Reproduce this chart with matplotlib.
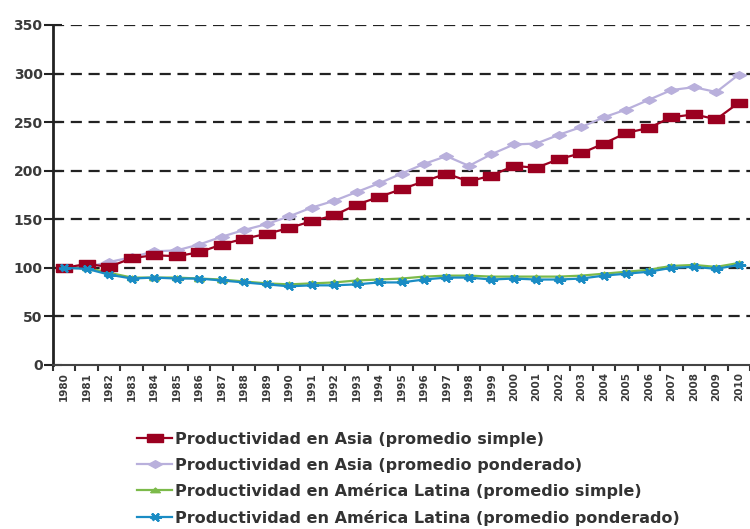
import matplotlib
matplotlib.use("Agg")
import matplotlib.pyplot as plt
import numpy as np

years = [str(y) for y in range(1980, 2011)]

asia_simple = [100, 104, 101, 110, 113, 112, 116, 124, 130, 135, 141, 148, 154, 165, 173,
               181, 189, 197, 189, 195, 205, 203, 212, 218, 228, 239, 244, 255, 258, 253, 270]
asia_weighted = [100, 101, 106, 111, 117, 118, 124, 132, 139, 145, 153, 162, 169, 178, 187,
                 197, 207, 215, 205, 217, 227, 228, 237, 245, 255, 263, 273, 283, 286, 281, 299]
latam_simple = [100, 100, 95, 90, 90, 90, 89, 88, 86, 84, 83, 84, 85, 87, 88,
                89, 91, 92, 92, 91, 91, 91, 91, 92, 94, 96, 98, 102, 103, 101, 105]
latam_weighted = [100, 99, 93, 89, 90, 89, 89, 87, 85, 83, 81, 82, 82, 83, 85,
                  85, 88, 90, 90, 88, 89, 88, 88, 89, 92, 94, 96, 100, 101, 99, 103]

labels = [
    "Productividad en Asia (promedio simple)",
    "Productividad en Asia (promedio ponderado)",
    "Productividad en América Latina (promedio simple)",
    "Productividad en América Latina (promedio ponderado)",
]

# the source image is stretched sideways, so the markers are wide too
wide_square = [(-1, -0.55), (1, -0.55), (1, 0.55), (-1, 0.55), (-1, -0.55)]
wide_diamond = [(-1, 0), (0, 0.55), (1, 0), (0, -0.55), (-1, 0)]
wide_triangle = [(-1, -0.45), (1, -0.45), (0, 0.5), (-1, -0.45)]
wide_star = [(-1, 0), (1, 0), (0, 0), (-0.5, 0.55), (0.5, -0.55), (0, 0),
             (0.5, 0.55), (-0.5, -0.55)]

plt.rcParams["font.family"] = ["DejaVu Sans"]

fig = plt.figure(figsize=(7.5, 5.29), dpi=100)
ax = fig.add_axes([53 / 750, (529 - 365) / 529, 1 - 53 / 750, 340 / 529])

x = np.arange(len(years))
ax.plot(x, asia_weighted, color="#b9b0dc", lw=1.6, marker=wide_diamond, ms=10,
        label=labels[1], zorder=3)
ax.plot(x, asia_simple, color="#9b0020", lw=1.6, marker=wide_square, ms=11,
        label=labels[0], zorder=4)
ax.plot(x, latam_simple, color="#7cba4a", lw=1.6, marker=wide_triangle, ms=7,
        label=labels[2], zorder=3)
ax.plot(x, latam_weighted, color="#1a8cc4", lw=1.6, marker=wide_star, ms=8, mew=1.8,
        label=labels[3], zorder=4)

ax.set_ylim(0, 350)
ax.set_yticks(range(0, 351, 50))
ax.set_xlim(-0.5, 30.34)
ax.set_xticks(x)
ax.set_xticklabels(years, rotation=90, fontsize=7.5, fontweight="bold", color="#3a3a3a")
ax.set_xticks(np.arange(-0.5, 30.6, 1), minor=True)
ax.tick_params(axis="x", which="major", length=0, pad=5)
ax.tick_params(axis="x", which="minor", length=4, width=1.5, color="#333333")
ax.tick_params(axis="y", length=13, width=1.5, direction="inout", labelsize=10,
               color="#222222", pad=1)
for t in ax.get_yticklabels():
    t.set_fontweight("bold")
    t.set_color("#3a3a3a")

for v in range(50, 351, 50):
    ax.axhline(v, color="#222222", lw=1.6, ls=(0, (5, 3)), zorder=1)

for s in ["top", "right"]:
    ax.spines[s].set_visible(False)
ax.spines["left"].set_linewidth(2)
ax.spines["left"].set_color("#222222")
ax.spines["bottom"].set_linewidth(1.5)
ax.spines["bottom"].set_color("#444444")

handles, labs = ax.get_legend_handles_labels()
order = [1, 0, 2, 3]
fig.legend([handles[i] for i in order], [labs[i] for i in order],
           loc="upper left", bbox_to_anchor=(137 / 750, 1 - 432 / 529), frameon=False,
           prop={"size": 11.5, "weight": "bold"}, handlelength=2.2, handletextpad=0.2,
           labelspacing=0.66, borderaxespad=0, borderpad=0, labelcolor="#333333")

fig.savefig("out.png", dpi=100)
